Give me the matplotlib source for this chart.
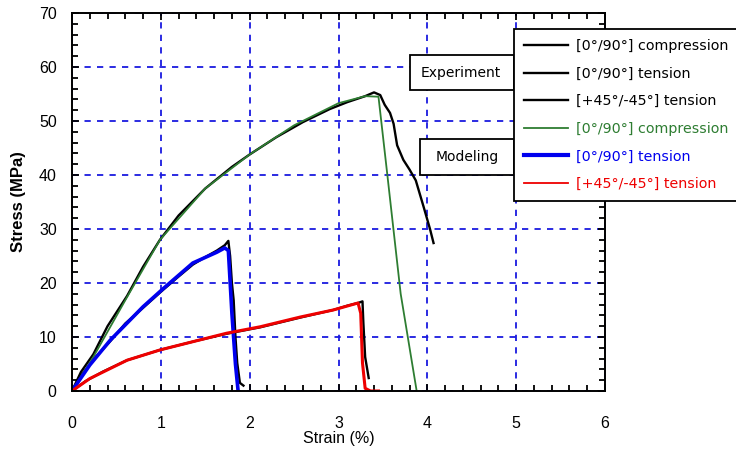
import matplotlib
matplotlib.use("Agg")
import matplotlib.pyplot as plt
from matplotlib.ticker import MultipleLocator
from matplotlib.patches import Rectangle

plt.rcParams['font.family'] = ['Liberation Sans', 'DejaVu Sans']
plt.rcParams['lines.scale_dashes'] = False

# Experimental data (black)
exp_comp_x = [0, 0.1, 0.24, 0.4, 0.62, 0.8, 0.99, 1.2, 1.5, 1.8, 2.0, 2.3, 2.6, 2.9, 3.1, 3.3, 3.4, 3.47, 3.52, 3.58, 3.62, 3.66, 3.73, 3.8, 3.87, 3.96, 4.03, 4.07]
exp_comp_y = [0, 3.5, 6.8, 12.0, 17.6, 23.0, 28.0, 32.5, 37.5, 41.5, 43.8, 47.0, 49.8, 52.2, 53.5, 54.6, 55.3, 54.8, 53.0, 51.5, 49.5, 45.5, 42.8, 41.0, 39.0, 34.0, 30.0, 27.4]

exp_ten_x = [0, 0.1, 0.25, 0.43, 0.6, 0.8, 1.03, 1.2, 1.36, 1.5, 1.63, 1.72, 1.76, 1.78, 1.80, 1.82, 1.84, 1.86, 1.89, 1.93]
exp_ten_y = [0, 2.8, 6.0, 9.2, 12.5, 15.4, 18.8, 21.2, 23.4, 24.8, 26.0, 27.0, 27.8, 25.0, 20.0, 16.8, 10.0, 5.2, 1.5, 1.0]

exp_45_x = [0, 0.15, 0.35, 0.62, 0.99, 1.4, 1.74, 2.12, 2.57, 2.94, 3.1, 3.22, 3.27, 3.28, 3.30, 3.34]
exp_45_y = [0, 1.8, 3.6, 5.7, 7.6, 9.3, 10.6, 11.8, 13.6, 15.0, 15.8, 16.3, 16.6, 12.6, 6.3, 2.4]

# Modeling data
mod_comp_x = [0, 0.24, 0.62, 0.99, 1.5, 2.0, 2.5, 3.0, 3.3, 3.45, 3.55, 3.70, 3.88]
mod_comp_y = [0, 6.3, 17.4, 28.0, 37.5, 43.8, 49.2, 53.3, 54.6, 54.5, 40.0, 18.0, 0]

mod_ten_x = [0, 0.2, 0.43, 0.8, 1.03, 1.36, 1.63, 1.72, 1.76, 1.80, 1.84, 1.87]
mod_ten_y = [0, 4.8, 9.4, 15.6, 19.0, 23.7, 25.7, 26.5, 26.0, 14.4, 5.0, 0]

mod_45_x = [0, 0.2, 0.62, 0.99, 1.74, 2.12, 2.57, 2.94, 3.22, 3.25, 3.27, 3.30, 3.36, 3.45]
mod_45_y = [0, 2.3, 5.7, 7.6, 10.7, 11.9, 13.7, 15.0, 16.3, 14.4, 5.2, 0.5, 0, 0]

labels = ["[0°/90°] compression", "[0°/90°] tension", "[+45°/-45°] tension",
          "[0°/90°] compression", "[0°/90°] tension", "[+45°/-45°] tension"]

fig = plt.figure(figsize=(7.36, 4.55), dpi=100)
ax = fig.add_axes([72/736, 1-391/455, (605-72)/736, (391-13)/455])

ax.set_xlim(0, 6)
ax.set_ylim(0, 70)
ax.xaxis.set_major_locator(MultipleLocator(1))
ax.xaxis.set_minor_locator(MultipleLocator(0.2))
ax.yaxis.set_major_locator(MultipleLocator(10))
ax.yaxis.set_minor_locator(MultipleLocator(2))
ax.tick_params(which='both', direction='in', top=True, right=True, width=1.3, labelsize=11.5)
ax.tick_params(axis='x', pad=18)
ax.tick_params(axis='y', pad=11)
ax.tick_params(which='major', length=5)
ax.tick_params(which='minor', length=4)
for s in ax.spines.values():
    s.set_linewidth(1.4)

ax.grid(True, which='major', color='#1a1adf', linestyle=(0, (4.5, 4.5)), linewidth=1.3)
ax.set_axisbelow(True)

h1, = ax.plot(exp_comp_x, exp_comp_y, color='black', lw=1.7, label=labels[0])
h2, = ax.plot(exp_ten_x, exp_ten_y, color='black', lw=1.7, label=labels[1])
h3, = ax.plot(exp_45_x, exp_45_y, color='black', lw=1.7, label=labels[2])
h4, = ax.plot(mod_comp_x, mod_comp_y, color='#2e7d32', lw=1.3, label=labels[3])
h5, = ax.plot(mod_ten_x, mod_ten_y, color='#0000ee', lw=2.6, label=labels[4])
h6, = ax.plot(mod_45_x, mod_45_y, color='#ee0000', lw=2.2, label=labels[5])

ax.set_xlabel("Strain (%)", fontsize=11.5, labelpad=0)
ax.set_ylabel("Stress (MPa)", fontsize=12, fontweight='bold', labelpad=9)

handles = [h1, h2, h3, h4, h5, h6]
leg = fig.legend(handles=handles, labels=labels, loc='upper left',
                 bbox_to_anchor=(514/736, 1-29/455),
                 prop={'family': 'DejaVu Sans', 'size': 10.3},
                 frameon=True, fancybox=False, edgecolor='black', framealpha=1,
                 handlelength=3.1, handletextpad=0.5, borderpad=0.7,
                 labelspacing=0.95, borderaxespad=0)
leg.get_frame().set_linewidth(1.3)
leg.legend_handles[4].set_linewidth(3)
leg.legend_handles[5].set_linewidth(1.3)
leg.legend_handles[3].set_linewidth(1.3)
for i, t in enumerate(leg.get_texts()):
    t.set_color(['black', 'black', 'black', '#2e7d32', '#0000ee', '#ee0000'][i])

fig.patches.append(Rectangle((410/736, 1-90/455), 104/736, 35/455, transform=fig.transFigure,
                             facecolor='white', edgecolor='black', linewidth=1.3, zorder=5))
fig.patches.append(Rectangle((420/736, 1-175/455), 94/736, 36/455, transform=fig.transFigure,
                             facecolor='white', edgecolor='black', linewidth=1.3, zorder=5))
fig.text(461/736, 1-73/455, "Experiment", ha='center', va='center', fontsize=10,
         family='DejaVu Sans', zorder=6)
fig.text(467/736, 1-157/455, "Modeling", ha='center', va='center', fontsize=10,
         family='DejaVu Sans', zorder=6)

fig.savefig("out.png", dpi=100)
